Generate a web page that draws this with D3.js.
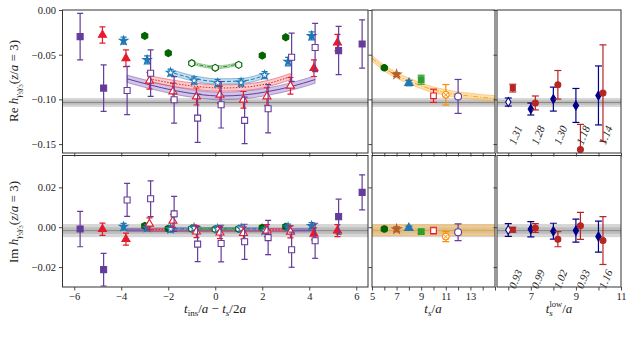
<!DOCTYPE html>
<html><head><meta charset="utf-8">
<script src="https://cdn.jsdelivr.net/npm/d3@7"></script>
<style>
body{margin:0;background:#fff}
svg{display:block}
svg text{font-family:'Liberation Serif','DejaVu Serif',serif !important;fill:#222}
</style>
</head><body>
<svg id="c" width="633" height="341" font-family="Liberation Serif, DejaVu Serif, serif"></svg>
<script>
// ---------------- DATA ----------------
// Left panels: t_ins/a - t_s/2a
const purpleX = [-5.75,-4.75,-3.75,-2.75,-1.75,-0.75,0.25,1.25,2.25,3.25,4.25,5.25,6.25];
const purpleOpen = [0,0,1,1,1,1,1,1,1,1,1,0,0];
const purpleRe = [-0.0298,-0.0874,-0.0900,-0.0707,-0.1005,-0.1210,-0.1060,-0.1235,-0.1105,-0.0528,-0.0420,-0.0454,-0.0380];
const purpleReErr = [0.026,0.026,0.027,0.026,0.026,0.027,0.026,0.026,0.027,0.027,0.027,0.027,0.027];
const purpleIm = [-0.0009,-0.0213,0.0137,0.0143,0.0067,-0.0085,-0.0082,-0.0073,-0.0052,-0.0113,-0.0068,0.0053,0.0175];
const purpleImErr = [0.0089,0.0082,0.0083,0.0090,0.0088,0.0088,0.0092,0.0088,0.0086,0.0088,0.0088,0.0088,0.0088];

const redX = [-4.8,-3.8,-2.8,-1.8,-0.8,0.2,1.2,2.2,3.2,4.2,5.2];
const redOpen = [0,0,1,1,1,1,1,1,1,0,0];
const redRe = [-0.0279,-0.0540,-0.0792,-0.0912,-0.0968,-0.0949,-0.1005,-0.0968,-0.0848,-0.0651,-0.0365];
const redReErr = [0.0091,0.0093,0.0093,0.0093,0.0095,0.0097,0.0093,0.0098,0.0093,0.0093,0.0093];
const redIm = [-0.0010,-0.0060,0.0017,0.0032,-0.0022,-0.0027,-0.0030,-0.0017,-0.0023,-0.0033,-0.0017];
const redImErr = [0.0031,0.0030,0.0030,0.0033,0.0030,0.0030,0.0030,0.0030,0.0030,0.0030,0.0030];

const blueX = [-3.9,-2.9,-1.9,-0.9,0.1,1.1,2.1,3.1,4.1];
const blueOpen = [0,0,1,1,1,1,1,0,0];
const blueRe = [-0.0343,-0.0558,-0.0700,-0.0789,-0.0818,-0.0811,-0.0729,-0.0577,-0.0290];
const blueReErr = [0.0040,0.0045,0.0037,0.0040,0.0040,0.0040,0.0040,0.0048,0.0045];
const blueIm = [0.0003,-0.0003,-0.0009,-0.0004,-0.0009,-0.0006,-0.0017,0.0000,0.0007];
const blueImErr = [0.0016,0.0016,0.0016,0.0016,0.0016,0.0016,0.0016,0.0016,0.0016];

const greenX = [-3,-2,-1,0,1,2,3];
const greenOpen = [0,0,1,1,1,0,0];
const greenRe = [-0.0290,-0.0483,-0.0595,-0.0647,-0.0614,-0.0510,-0.0305];
const greenReErr = [0.0015,0.0015,0.0015,0.0015,0.0015,0.0015,0.0015];
const greenIm = [0.0007,-0.0007,-0.0007,-0.0010,-0.0008,-0.0002,0.0003];
const greenImErr = [0.0010,0.0010,0.0010,0.0010,0.0010,0.0010,0.0010];

// fit bands (left)
const purpleBandX = [-3.75,-2.75,-1.75,-0.75,0.25,1.25,2.25,3.25,4.25];
const purpleBandRe = [-0.0770,-0.0840,-0.0900,-0.0943,-0.0962,-0.0950,-0.0912,-0.0855,-0.0778];
const purpleBandIm = [-0.0014,-0.0014,-0.0014,-0.0015,-0.0015,-0.0015,-0.0015,-0.0015,-0.0015];
const redBandX = [-2.8,-1.8,-0.8,0.2,1.2,2.2,3.2];
const redBandRe = [-0.0770,-0.0820,-0.0855,-0.0873,-0.0865,-0.0825,-0.0745];
const redBandIm = [-0.0012,-0.0012,-0.0013,-0.0013,-0.0013,-0.0013,-0.0013];
const blueBandX = [-2.0,-0.9,0.1,1.1,2.2];
const blueBandRe = [-0.0685,-0.0767,-0.0800,-0.0795,-0.0722];
const blueBandIm = [-0.0008,-0.0008,-0.0008,-0.0008,-0.0008];
const greenBandX = [-1,-0.5,0,0.5,1];
const greenBandRe = [-0.0590,-0.0625,-0.0640,-0.0630,-0.0600];
const greenBandIm = [-0.0008,-0.0008,-0.0008,-0.0008,-0.0008];

// Middle panels: t_s/a
const tsVals = [6,7,8,9,10,11,12];
const tsRe = [-0.0647,-0.0722,-0.0818,-0.0780,-0.0960,-0.0949,-0.0967];
const tsReErr = [0.0015,0.0020,0.0030,0.0050,0.0074,0.0115,0.0190];
const tsIm = [-0.0009,-0.0010,-0.0004,-0.0022,-0.0017,-0.0047,-0.0025];
const tsImErr = [0.0008,0.0012,0.0010,0.0009,0.0017,0.0025,0.0042];
const orangeBandTs = [5,6,7,8,9,10,11,12,13,14,15];
const orangeBandRe = [-0.0540,-0.0650,-0.0730,-0.0792,-0.0848,-0.0893,-0.0923,-0.0949,-0.0963,-0.0979,-0.0990];
const orangeBandIm = [-0.0015,-0.0015,-0.0015,-0.0015,-0.0015,-0.0015,-0.0015,-0.0015,-0.0015,-0.0015,-0.0015];

// Right panels: t_s^low/a
const tsLow = [6,7,8,9,10];
const navyRe = [-0.1030,-0.1108,-0.0997,-0.1068,-0.0956];
const navyReErr = [0.0045,0.0067,0.0134,0.0190,0.0330];
const navyIm = [-0.00135,-0.0010,-0.0020,-0.0017,-0.0047];
const navyImErr = [0.0032,0.0038,0.0040,0.0058,0.0078];
const darkRedRe = [-0.0874,-0.1040,-0.0837,-0.1560,-0.0930];
const darkRedReErr = [0.0043,0.0078,0.0160,0.0280,0.0540];
const darkRedIm = [-0.0013,-0.0004,-0.0060,0.0007,-0.0067];
const darkRedImErr = [0.0012,0.0022,0.0038,0.0068,0.0120];
const reAnnot = ["1.31","1.28","1.30","1.18","1.14"];
const imAnnot = ["0.93","0.99","1.02","0.93","1.16"];

// horizontal reference band
const refRe = -0.1035, refReHw = 0.005;
const refIm = -0.0017, refImHw = 0.0033;

// ticks
const leftTicks = [-6,-4,-2,0,2,4,6];
const midTicks = [5,6,7,8,9,10,11,12,13,14,15];
const midLabels = [5,7,9,11,13];
const rightTicks = [6,7,8,9,10,11];
const rightLabels = [7,9,11];
const reTicks = [0,-0.05,-0.10,-0.15];
const imTicks = [0.02,0,-0.02];

// ---------------- SCALES ----------------
const xL = d3.scaleLinear([-6.5,6.5],[62.5,368]);
const xM = d3.scaleLinear([5,15],[372,495]);
const xR = d3.scaleLinear([5.5,11],[497,621]);
const yT = d3.scaleLinear([-0.16,0],[153,10]);
const yB = d3.scaleLinear([-0.03,0.036],[287,155.5]);

const C = {
  purple:'#653c9b', red:'#e8192c', blue:'#1f77b4', dgreen:'#006400',
  brown:'#b5602c', lgreen:'#2ca02c', orange:'#ff8c00', navy:'#00008b', dred:'#b82525'
};
const SERIF = "'Liberation Serif','DejaVu Serif',serif";

const svg = d3.select('#c');
const defs = svg.append('defs');
let clipN = 0;
function makePanel(xs, ys){
  const id = 'clip'+(clipN++);
  const [x0,x1] = xs.range(), [yb,yt] = ys.range();
  defs.append('clipPath').attr('id',id).append('rect')
    .attr('x',x0).attr('y',yt).attr('width',x1-x0).attr('height',yb-yt);
  return svg.append('g').attr('clip-path',`url(#${id})`);
}

function grayBand(g, xs, ys, c, hw){
  const [x0,x1] = xs.range();
  g.append('rect').attr('x',x0).attr('width',x1-x0)
    .attr('y',ys(c+hw)).attr('height',ys(c-hw)-ys(c+hw))
    .attr('fill','#b4b4b4').attr('opacity',0.55);
  g.append('rect').attr('x',x0).attr('width',x1-x0)
    .attr('y',ys(c+hw*0.5)).attr('height',ys(c-hw*0.5)-ys(c+hw*0.5))
    .attr('fill','#a0a0a0').attr('opacity',0.45);
  g.append('line').attr('x1',x0).attr('x2',x1).attr('y1',ys(c)).attr('y2',ys(c))
    .attr('stroke','#888').attr('stroke-width',1);
}

function fitBand(g, xs, ys, xv, cv, hw, stroke, fill, dash, op){
  const area = d3.area().x((d,i)=>xs(xv[i])).y0(d=>ys(d-hw)).y1(d=>ys(d+hw)).curve(d3.curveMonotoneX);
  g.append('path').datum(cv).attr('d',area).attr('fill',fill).attr('fill-opacity',op)
    .attr('stroke',stroke).attr('stroke-opacity',0.55).attr('stroke-width',0.8);
  const line = d3.line().x((d,i)=>xs(xv[i])).y(d=>ys(d)).curve(d3.curveMonotoneX);
  g.append('path').datum(cv).attr('d',line).attr('fill','none').attr('stroke',stroke)
    .attr('stroke-width',1).attr('stroke-dasharray',dash);
}

function points(g, xs, ys, xv, yv, ev, color, sym, size, open, opt={}){
  xv.forEach((xx,i)=>{
    const cx = xs(xx), cy = ys(yv[i]), t = ys(yv[i]+ev[i]), b = ys(yv[i]-ev[i]);
    const cw = opt.cap || 3;
    g.append('line').attr('x1',cx).attr('x2',cx).attr('y1',t).attr('y2',b)
      .attr('stroke',color).attr('stroke-width',1.2);
    [t,b].forEach(yy=>g.append('line').attr('x1',cx-cw).attr('x2',cx+cw).attr('y1',yy).attr('y2',yy)
      .attr('stroke',color).attr('stroke-width',1.2));
    const s = Array.isArray(sym) ? sym[i] : sym;
    const isOpen = Array.isArray(open) ? open[i] : open;
    g.append('path').attr('d',d3.symbol(s, Array.isArray(size)?size[i]:size)())
      .attr('transform',`translate(${cx},${cy})`)
      .attr('fill',isOpen?'white':color).attr('stroke',color).attr('stroke-width',1.1);
    if (opt.cross){
      g.append('path').attr('d','M-2,-2L2,2M-2,2L2,-2')
        .attr('transform',`translate(${cx},${cy})`).attr('stroke',color).attr('stroke-width',1);
    }
  });
}

const hexagon = { draw(ctx, size){
  const r = Math.sqrt(size/(1.5*Math.sqrt(3)));
  for(let i=0;i<6;i++){ const a = Math.PI/3*i+Math.PI/6; const px=r*Math.cos(a), py=r*Math.sin(a);
    if(i) ctx.lineTo(px,py); else ctx.moveTo(px,py);} ctx.closePath(); } };
const thinDiamond = { draw(ctx, size){
  const r = Math.sqrt(size/1.2);
  ctx.moveTo(0,-r); ctx.lineTo(r*0.6,0); ctx.lineTo(0,r); ctx.lineTo(-r*0.6,0); ctx.closePath(); } };

// ---------------- LEFT TOP ----------------
{
  const g = makePanel(xL,yT);
  grayBand(g,xL,yT,refRe,refReHw);
  fitBand(g,xL,yT,purpleBandX,purpleBandRe,0.0042,C.purple,'#a48bd0','none',0.5);
  fitBand(g,xL,yT,redBandX,redBandRe,0.0035,C.red,'#f29a9a','1.5,1.5',0.5);
  fitBand(g,xL,yT,blueBandX,blueBandRe,0.003,C.blue,'#8ec0e2','4,2',0.5);
  fitBand(g,xL,yT,greenBandX,greenBandRe,0.0015,'#2e8b2e','#8fd18f','4,1.5,1,1.5',0.5);
  points(g,xL,yT,greenX,greenRe,greenReErr,C.dgreen,hexagon,32,greenOpen);
  points(g,xL,yT,blueX,blueRe,blueReErr,C.blue,d3.symbolStar,22,blueOpen);
  points(g,xL,yT,redX,redRe,redReErr,C.red,d3.symbolTriangle,28,redOpen);
  points(g,xL,yT,purpleX,purpleRe,purpleReErr,C.purple,d3.symbolSquare,36,purpleOpen);
}
// ---------------- LEFT BOTTOM ----------------
{
  const g = makePanel(xL,yB);
  grayBand(g,xL,yB,refIm,refImHw);
  fitBand(g,xL,yB,purpleBandX,purpleBandIm,0.0008,C.purple,'#a48bd0','none',0.5);
  fitBand(g,xL,yB,redBandX,redBandIm,0.0007,C.red,'#f29a9a','1.5,1.5',0.5);
  fitBand(g,xL,yB,blueBandX,blueBandIm,0.0006,C.blue,'#8ec0e2','4,2',0.5);
  fitBand(g,xL,yB,greenBandX,greenBandIm,0.0005,'#2e8b2e','#8fd18f','4,1.5,1,1.5',0.5);
  points(g,xL,yB,greenX,greenIm,greenImErr,C.dgreen,hexagon,32,greenOpen);
  points(g,xL,yB,blueX,blueIm,blueImErr,C.blue,d3.symbolStar,22,blueOpen);
  points(g,xL,yB,redX,redIm,redImErr,C.red,d3.symbolTriangle,28,redOpen);
  points(g,xL,yB,purpleX,purpleIm,purpleImErr,C.purple,d3.symbolSquare,36,purpleOpen);
}
// ---------------- MIDDLE ----------------
const midColors = [C.dgreen,C.brown,C.blue,C.lgreen,C.red,C.orange,C.purple];
const midSyms = [d3.symbolCircle,d3.symbolStar,d3.symbolTriangle,d3.symbolSquare,d3.symbolSquare,d3.symbolCircle,d3.symbolCircle];
const midSizes = [32,24,30,32,32,34,38];
const midOpen = [0,0,0,0,1,1,1];
const midCross = [0,0,0,0,0,1,0];
function midPanel(ys, vals, errs, band, hw, ref, refHw){
  const g = makePanel(xM,ys);
  grayBand(g,xM,ys,ref,refHw);
  fitBand(g,xM,ys,orangeBandTs,band,hw,'#f5a623','#fdc46b','5,2,1,2',0.55);
  tsVals.forEach((t,i)=>{
    points(g,xM,ys,[t],[vals[i]],[errs[i]],midColors[i],midSyms[i],midSizes[i],!!midOpen[i],{cross:!!midCross[i],cap:3.5});
  });
}
midPanel(yT,tsRe,tsReErr,orangeBandRe,0.0032,refRe,refReHw);
midPanel(yB,tsIm,tsImErr,orangeBandIm,0.0027,refIm,refImHw);

// ---------------- RIGHT ----------------
function rightPanel(ys, nv, ne, rv, re, labels, ly, ref, refHw){
  const g = makePanel(xR,ys);
  grayBand(g,xR,ys,ref,refHw);
  points(g,xR,ys,tsLow,nv,ne,C.navy,thinDiamond,24,[1,0,0,0,0],{cap:3.5});
  points(g,xR,ys,tsLow.map(t=>t+0.2),rv,re,C.dred,[d3.symbolSquare,d3.symbolCircle,d3.symbolCircle,d3.symbolCircle,d3.symbolCircle],[24,28,28,28,28],false,{cap:3.5});
  labels.forEach((s,i)=>{
    svg.append('text').attr('transform',`translate(${xR(tsLow[i])+7},${ly}) rotate(-68)`)
      .attr('text-anchor','middle').attr('dominant-baseline','central')
      .attr('font-style','italic').attr('font-size',11).text(s);
  });
}
rightPanel(yT,navyRe,navyReErr,darkRedRe,darkRedReErr,reAnnot,135,refRe,refReHw);
rightPanel(yB,navyIm,navyImErr,darkRedIm,darkRedImErr,imAnnot,279,refIm,refImHw);

// ---------------- AXES & FRAMES ----------------
function styleAxis(sel){
  sel.attr('font-family',SERIF);
  sel.select('.domain').remove();
  sel.selectAll('.tick line').attr('stroke','#333').attr('stroke-width',0.9);
  sel.selectAll('.tick text').attr('font-size',10.5).attr('fill','#222');
}
const fmt = d3.format('.2f');
function axes(xs, ys, xt, xlab, yt, ylab){
  svg.append('g').attr('transform',`translate(0,${ys.range()[0]})`)
    .call(d3.axisBottom(xs).tickValues(xt).tickSize(3.5).tickPadding(2)
      .tickFormat(xlab ? (d=>xlab.includes(d)?String(d).replace('-','−'):'') : ()=>''))
    .call(styleAxis);
  svg.append('g').attr('transform',`translate(${xs.range()[0]},0)`)
    .call(d3.axisLeft(ys).tickValues(yt).tickSize(3.5).tickPadding(3)
      .tickFormat(ylab ? (d=>fmt(d).replace('-','−')) : ()=>''))
    .call(styleAxis);
  const [x0,x1]=xs.range(), [yb,ytop]=ys.range();
  svg.append('rect').attr('x',x0).attr('y',ytop).attr('width',x1-x0).attr('height',yb-ytop)
    .attr('fill','none').attr('stroke','#333').attr('stroke-width',1);
}
axes(xL,yT,leftTicks,null,reTicks,true);
axes(xL,yB,leftTicks,leftTicks,imTicks,true);
axes(xM,yT,midTicks,null,reTicks,false);
axes(xM,yB,midTicks,midLabels,imTicks,false);
axes(xR,yT,rightTicks,null,reTicks,false);
axes(xR,yB,rightTicks,rightLabels,imTicks,false);

// ---------------- LABELS ----------------
function yLabel(prefix, cy){
  const t = svg.append('text').attr('transform',`translate(18,${cy}) rotate(-90)`)
    .attr('text-anchor','middle').attr('font-size',13);
  t.append('tspan').text(prefix+' ');
  t.append('tspan').attr('font-style','italic').text('h');
  t.append('tspan').attr('font-style','italic').attr('font-size',9).attr('dy',3).text('γ');
  t.append('tspan').attr('font-size',6.5).attr('dy',2).text('5');
  t.append('tspan').attr('font-style','italic').attr('font-size',9).attr('dy',-2).text('γ');
  t.append('tspan').attr('font-size',6.5).attr('dy',2).text('3');
  t.append('tspan').attr('dy',-5).text('(');
  t.append('tspan').attr('font-style','italic').text('z');
  t.append('tspan').text('/');
  t.append('tspan').attr('font-style','italic').text('a');
  t.append('tspan').text(' = 3)');
}
yLabel('Re',81);
yLabel('Im',222);

{
  const t = svg.append('text').attr('x',215).attr('y',313).attr('text-anchor','middle').attr('font-size',13);
  t.append('tspan').attr('font-style','italic').text('t');
  t.append('tspan').attr('font-size',9).attr('dy',3).text('ins');
  t.append('tspan').attr('dy',-3).text('/');
  t.append('tspan').attr('font-style','italic').text('a');
  t.append('tspan').text(' − ');
  t.append('tspan').attr('font-style','italic').text('t');
  t.append('tspan').attr('font-style','italic').attr('font-size',9).attr('dy',3).text('s');
  t.append('tspan').attr('dy',-3).text('/2');
  t.append('tspan').attr('font-style','italic').text('a');
}
{
  const t = svg.append('text').attr('x',433).attr('y',313).attr('text-anchor','middle').attr('font-size',13);
  t.append('tspan').attr('font-style','italic').text('t');
  t.append('tspan').attr('font-style','italic').attr('font-size',9).attr('dy',3).text('s');
  t.append('tspan').attr('dy',-3).text('/');
  t.append('tspan').attr('font-style','italic').text('a');
}
{
  const t = svg.append('text').attr('x',559).attr('y',313).attr('text-anchor','middle').attr('font-size',13);
  t.append('tspan').attr('font-style','italic').text('t');
  t.append('tspan').attr('font-style','italic').attr('font-size',9).attr('dy',3).text('s');
  t.append('tspan').attr('font-size',8.5).attr('dx',-3.5).attr('dy',-9).text('low');
  t.append('tspan').attr('dy',6).text('/');
  t.append('tspan').attr('font-style','italic').text('a');
}
</script>
</body></html>
